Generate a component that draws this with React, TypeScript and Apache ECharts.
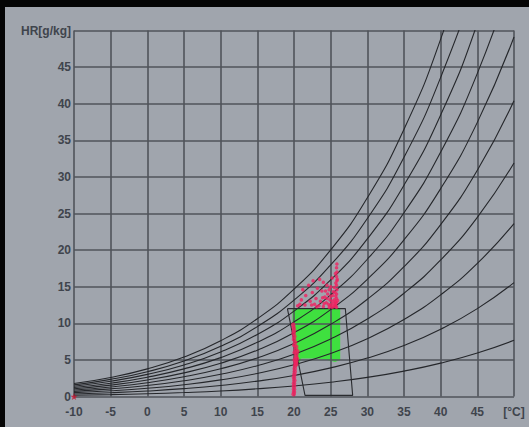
import React, { useEffect, useRef } from "react";
import * as echarts from "echarts";

// Temperature axis (°C) and humidity-ratio (g/kg) values
const temps = [-10, -5, 0, 5, 10, 15, 20, 25, 30, 35, 40, 45, 50];
const xTicks = [-10, -5, 0, 5, 10, 15, 20, 25, 30, 35, 40, 45, 50];
const yTicks = [0, 5, 10, 15, 20, 25, 30, 35, 40, 45, 50];

// Relative-humidity curves 10% .. 100%
const rh10 = [0.18, 0.26, 0.38, 0.54, 0.75, 1.05, 1.44, 1.95, 2.61, 3.47, 4.56, 5.94, 7.68];
const rh20 = [0.35, 0.52, 0.75, 1.07, 1.51, 2.1, 2.88, 3.91, 5.25, 6.97, 9.19, 12.0, 15.55];
const rh30 = [0.53, 0.78, 1.13, 1.61, 2.27, 3.15, 4.33, 5.88, 7.9, 10.52, 13.88, 18.18, 23.63];
const rh40 = [0.7, 1.04, 1.5, 2.15, 3.03, 4.21, 5.78, 7.86, 10.58, 14.11, 18.65, 24.48, 31.91];
const rh50 = [0.88, 1.3, 1.88, 2.69, 3.79, 5.27, 7.25, 9.86, 13.28, 17.73, 23.49, 30.9, 40.4];
const rh60 = [1.06, 1.56, 2.26, 3.23, 4.55, 6.33, 8.71, 11.87, 16.01, 21.4, 28.4, 37.45, 49.12];
const rh70 = [1.23, 1.82, 2.64, 3.77, 5.31, 7.4, 10.19, 13.89, 18.75, 25.11, 33.39, 44.14, 58.07];
const rh80 = [1.41, 2.08, 3.02, 4.31, 6.08, 8.47, 11.67, 15.92, 21.53, 28.87, 38.46, 50.96, 67.27];
const rh90 = [1.59, 2.34, 3.39, 4.85, 6.85, 9.55, 13.16, 17.97, 24.32, 32.67, 43.6, 57.92, 76.71];
const rh100 = [1.77, 2.6, 3.77, 5.4, 7.62, 10.63, 14.66, 20.03, 27.14, 36.51, 48.82, 65.03, 86.42];
const rhCurves = [rh10, rh20, rh30, rh40, rh50, rh60, rh70, rh80, rh90, rh100];

// Comfort zone outline [T, W]
const comfortZone = [
  [19.1, 12.0],
  [27.0, 12.0],
  [28.0, 0.15],
  [21.5, 0.15],
  [19.1, 12.0],
];

// Dense green measurement cloud outline [T, W]
const greenCloud = [
  [19.8, 12.0],
  [26.3, 12.0],
  [26.3, 5.0],
  [25.6, 4.7],
  [24.5, 5.0],
  [23.0, 5.2],
  [21.0, 5.2],
  [20.6, 4.3],
  [20.2, 3.9],
  [20.0, 6.0],
  [19.8, 9.0],
];

// Red measurement points: vertical streak near 20 °C
const redStreak = [
  [20.0, 0.6], [20.0, 1.0], [20.0, 1.4], [20.0, 1.8], [20.05, 2.2], [20.0, 2.6],
  [20.05, 3.0], [20.1, 3.4], [20.1, 3.8], [20.15, 4.2], [20.2, 4.6], [20.3, 4.8],
  [20.1, 5.0], [20.25, 5.4], [20.35, 5.8], [20.1, 6.0], [20.2, 6.4], [20.3, 6.8],
  [20.05, 7.0], [20.15, 7.4], [20.0, 7.8], [20.05, 8.2], [19.95, 8.6], [20.0, 9.0],
  [19.95, 9.4], [19.9, 9.8], [20.4, 5.2], [20.45, 6.2], [20.3, 4.4], [19.95, 0.3],
];

// Red measurement points: cluster above the comfort zone
const redCluster = [
  [25.8, 12.2], [25.8, 12.8], [25.8, 13.4], [25.8, 14.0], [25.85, 14.6], [25.8, 15.2],
  [25.85, 15.8], [25.8, 16.4], [25.85, 17.0], [25.8, 17.6], [25.85, 18.1], [25.6, 12.5],
  [25.5, 13.2], [25.6, 14.2], [25.4, 12.3], [25.3, 13.8], [25.1, 12.6], [24.9, 13.2],
  [24.8, 12.2], [24.6, 14.0], [24.4, 12.8], [24.2, 13.6], [24.0, 12.3], [23.8, 14.4],
  [23.6, 13.0], [23.4, 12.4], [23.2, 14.8], [23.0, 13.4], [22.8, 12.6], [22.5, 14.2],
  [22.2, 13.0], [22.0, 15.2], [21.6, 13.8], [21.2, 14.6], [21.0, 13.2], [20.8, 12.6],
  [24.5, 15.2], [25.0, 15.0], [24.0, 15.6], [25.2, 16.2], [23.5, 16.0], [22.6, 15.8],
  [24.8, 14.6], [25.5, 14.9], [20.5, 12.4], [21.5, 12.5], [25.2, 13.0], [24.3, 14.4],
  [25.65, 12.9], [25.7, 13.7], [25.45, 12.7], [25.2, 12.2], [25.0, 13.7], [24.7, 12.6],
  [24.5, 13.4], [24.1, 12.7], [23.9, 13.5], [25.7, 15.5], [25.65, 16.8], [25.9, 16.0],
  [25.95, 13.1], [25.7, 12.35], [23.1, 12.25], [22.4, 12.5], [24.9, 12.4], [25.35, 14.3],
];

const originMark = [[-10, 0]];

const labelFont = {
  fontFamily: "Liberation Sans, Arial, sans-serif",
  fontWeight: "bold" as const,
  fontSize: 12,
  color: "#3f444c",
};

export default function App() {
  const ref = useRef<HTMLDivElement>(null);

  useEffect(() => {
    if (!ref.current) return;
    const chart = echarts.init(ref.current, undefined, { renderer: "svg" });
    const gridColor = "#50545b";
    const curveSeries = rhCurves.map((c, idx) => ({
      name: `RH${(idx + 1) * 10}`,
      type: "line",
      data: temps.map((t, i) => [t, c[i]]),
      smooth: 0.5,
      showSymbol: false,
      silent: true,
      clip: true,
      lineStyle: { color: "#25272b", width: 1.1 },
      z: 3,
    }));
    chart.setOption({
      animation: false,
      backgroundColor: "#a0a5ad",
      grid: { left: 69, right: 15, top: 23.5, bottom: 30.5 },
      xAxis: {
        type: "value",
        min: xTicks[0],
        max: xTicks[xTicks.length - 1],
        interval: 5,
        z: 2,
        axisLine: { show: false },
        axisTick: { show: false },
        splitLine: { show: true, lineStyle: { color: gridColor, width: 1.6 } },
        axisLabel: {
          ...labelFont,
          margin: 9,
          showMinLabel: true,
          showMaxLabel: true,
          formatter: (v: number) => (v === 50 ? "[°C]" : String(v)),
        },
      },
      yAxis: {
        type: "value",
        min: yTicks[0],
        max: yTicks[yTicks.length - 1],
        interval: 5,
        z: 2,
        axisLine: { show: false },
        axisTick: { show: false },
        splitLine: { show: true, lineStyle: { color: gridColor, width: 1.6 } },
        axisLabel: {
          ...labelFont,
          margin: 3,
          padding: [0, 0, 7, 0],
          showMinLabel: true,
          showMaxLabel: true,
          formatter: (v: number) => (v === 50 ? "HR[g/kg]" : String(v)),
        },
      },
      series: [
        {
          type: "custom",
          silent: true,
          z: 1,
          data: [0],
          renderItem: (_params: any, api: any) => ({
            type: "polygon",
            shape: { points: greenCloud.map((p) => api.coord(p)) },
            style: { fill: "#3fe03f" },
          }),
        },
        ...curveSeries,
        {
          type: "line",
          data: comfortZone,
          showSymbol: false,
          silent: true,
          lineStyle: { color: "#2a2c30", width: 1.1 },
          z: 3,
        },
        {
          type: "scatter",
          data: redStreak,
          symbolSize: 4.5,
          itemStyle: { color: "#f02260" },
          silent: true,
          z: 4,
        },
        {
          type: "scatter",
          data: redCluster,
          symbolSize: 3.5,
          itemStyle: { color: "#f02260" },
          silent: true,
          z: 4,
        },
        {
          type: "scatter",
          data: originMark,
          symbol:
            "path://M50,0 L61,35 L98,35 L68,57 L79,91 L50,70 L21,91 L32,57 L2,35 L39,35 Z",
          symbolSize: 7,
          itemStyle: { color: "#c8102e" },
          silent: true,
          clip: false,
          z: 5,
        },
      ],
    });
    return () => chart.dispose();
  }, []);

  return (
    <div
      style={{
        position: "fixed",
        left: 0,
        top: 0,
        width: 529,
        height: 427,
        background: "#050505",
      }}
    >
      <div
        ref={ref}
        style={{ position: "absolute", left: 5, top: 7, width: 524, height: 420 }}
      />
    </div>
  );
}
